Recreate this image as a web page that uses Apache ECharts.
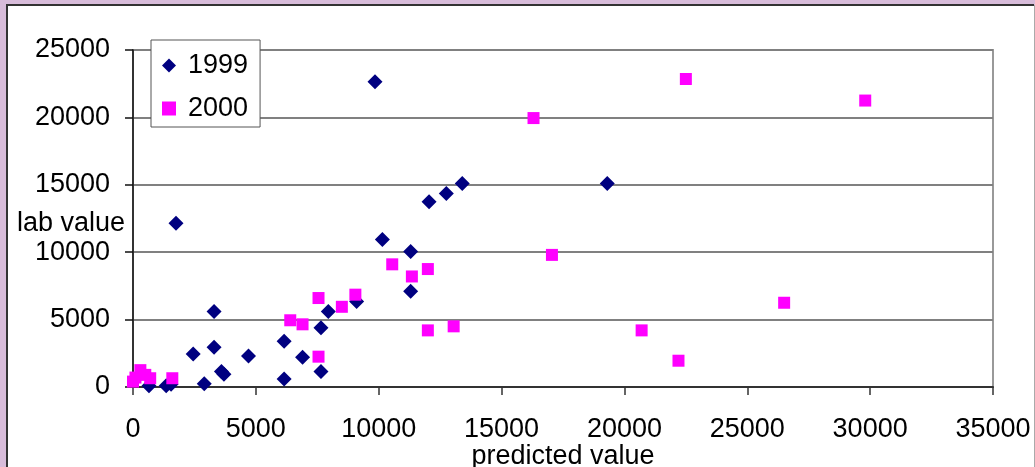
<!DOCTYPE html>
<html>
<head>
<meta charset="utf-8">
<script src="https://cdn.jsdelivr.net/npm/echarts@6/dist/echarts.min.js"></script>
<style>
html,body{margin:0;padding:0;background:#D8BCDA;}
#chart{width:1035px;height:467px;}
</style>
</head>
<body>
<div id="chart"></div>
<script>
var seriesNames = ['1999', '2000'];
var data1999 = [
  [650,100],[1350,100],[1550,200],[1750,12150],[2450,2450],[2900,250],
  [3300,5600],[3300,2950],[3600,1150],[3700,950],[4700,2300],[6150,3400],
  [6150,600],[6900,2200],[7650,4400],[7650,1150],[7950,5600],[9100,6350],
  [9850,22650],[10150,10950],[11300,10050],[11300,7100],[12050,13750],
  [12750,14350],[13400,15100],[19300,15100]
];
var data2000 = [
  [0,400],[100,700],[300,1250],[500,900],[700,650],[1600,650],
  [6400,4950],[6900,4650],[7550,6600],[7550,2250],[8500,5950],[9050,6850],
  [10550,9100],[11350,8200],[12000,8750],[12000,4200],[13050,4500],
  [16300,19950],[17050,9800],[20700,4200],[22200,1950],[22500,22850],
  [26500,6250],[29800,21250]
];
var xAxisName = 'predicted value';
var yAxisName = 'lab value';

var font = 'Liberation Sans, Arial, sans-serif';
var plain = function (v) { return String(v); };
var chart = echarts.init(document.getElementById('chart'));
chart.setOption({
  animation: false,
  backgroundColor: 'transparent',
  textStyle: {fontFamily: font},
  graphic: {
    elements: [
      {type: 'rect', z: -10, shape: {x: 7, y: 5, width: 1027, height: 470}, style: {fill: '#ffffff'}},
      {type: 'line', z: -9, shape: {x1: 6, y1: 5, x2: 1034, y2: 5}, style: {stroke: '#333333', lineWidth: 2}},
      {type: 'line', z: -9, shape: {x1: 7, y1: 5, x2: 7, y2: 470}, style: {stroke: '#333333', lineWidth: 2}},
      {type: 'line', z: -9, shape: {x1: 1034.5, y1: 5, x2: 1034.5, y2: 470}, style: {stroke: '#aaaaaa', lineWidth: 1}},
      {type: 'text', z: 5, x: 125, y: 224,
       style: {text: yAxisName, fill: '#000', font: '27px ' + font, align: 'right', verticalAlign: 'middle'}}
    ]
  },
  grid: {
    left: 133, top: 50, right: 42, bottom: 80,
    show: true, borderColor: '#999999', borderWidth: 2, backgroundColor: 'transparent',
    containLabel: false, outerBoundsMode: 'none'
  },
  legend: {
    data: [{name: '1999', icon: 'diamond'}, {name: '2000', icon: 'rect'}],
    orient: 'vertical',
    left: 151, top: 40,
    backgroundColor: '#ffffff',
    borderColor: '#555555', borderWidth: 1, borderRadius: 0,
    padding: [12, 12, 5, 11],
    itemWidth: 14, itemHeight: 14, itemGap: 16,
    textStyle: {fontSize: 27, color: '#000', fontFamily: font, padding: [0, 0, 0, 7]}
  },
  xAxis: {
    type: 'value', min: 0, max: 35000, interval: 5000,
    name: xAxisName, nameLocation: 'middle', nameGap: 56, nameMoveOverlap: false,
    nameTextStyle: {fontSize: 27, color: '#000', fontFamily: font},
    axisLine: {show: true, lineStyle: {color: '#333333', width: 2}},
    axisTick: {show: true, length: 8, lineStyle: {color: '#333333', width: 1.5}},
    axisLabel: {fontSize: 27, color: '#000', margin: 29, fontFamily: font, formatter: plain},
    splitLine: {show: false}
  },
  yAxis: {
    type: 'value', min: 0, max: 25000, interval: 5000,
    axisLine: {show: true, lineStyle: {color: '#111111', width: 1.5}},
    axisTick: {show: true, length: 8, lineStyle: {color: '#111111', width: 1.5}},
    axisLabel: {fontSize: 27, color: '#000', margin: 23, fontFamily: font, formatter: plain},
    splitLine: {show: true, lineStyle: {color: '#808080', width: 2}}
  },
  series: [
    {name: seriesNames[0], type: 'scatter', symbol: 'diamond', symbolSize: 15,
     itemStyle: {color: '#000080', opacity: 1}, data: data1999, z: 3},
    {name: seriesNames[1], type: 'scatter', symbol: 'rect', symbolSize: 12,
     itemStyle: {color: '#FF00FF', opacity: 1}, data: data2000, z: 4}
  ]
});
</script>
</body>
</html>
